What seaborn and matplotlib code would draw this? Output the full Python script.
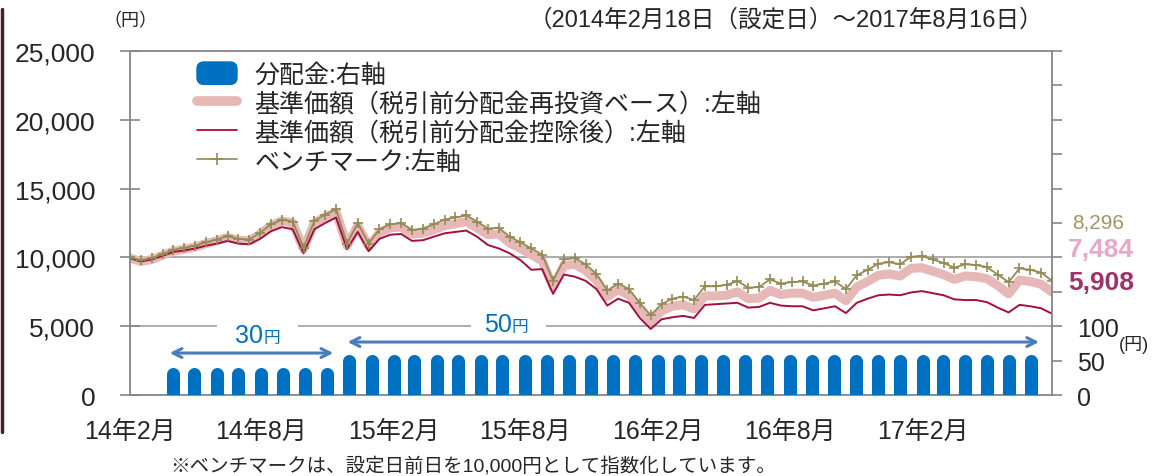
import matplotlib
matplotlib.use("Agg")
import pandas as pd
import matplotlib.pyplot as plt
import matplotlib.dates as mdates
import matplotlib.patches as mpatches
from matplotlib.lines import Line2D
from matplotlib.legend_handler import HandlerPatch
import seaborn as sns

sns.set_style("white")
plt.rcParams["font.family"] = ["Liberation Sans", "Noto Sans CJK JP"]

# ---------------- data ----------------
start_date = "2014-02-18"
end_date = "2017-08-16"

benchmark = [
    10000, 9800, 9950, 10250, 10550, 10700, 10850, 11100, 11300, 11550,
    11350, 11300, 11800, 12400, 12750, 12600, 10700, 12650, 13100, 13500,
    11000, 12500, 11000, 12050, 12400, 12500, 12000, 12100, 12400, 12750,
    12900, 13050, 12600, 12100, 12150, 11500, 11100, 10650, 10200, 8300,
    9850, 9950, 9500, 8800, 7600, 8100, 7700, 6700, 5800, 6600,
    7000, 7150, 6900, 7900, 7900, 8000, 8280, 7800, 7850, 8400,
    8100, 8200, 8250, 7950, 8100, 8250, 7700, 8700, 9100, 9550,
    9650, 9500, 10050, 10100, 9850, 9600, 9250, 9500, 9450, 9300,
    8750, 8200, 9200, 9100, 8900, 8296,
]
nav_reinvest = [
    9950, 9700, 9850, 10150, 10450, 10600, 10750, 11000, 11200, 11450,
    11250, 11200, 11700, 12300, 12650, 12500, 10600, 12500, 12950, 13300,
    10850, 12300, 10800, 11800, 12150, 12200, 11700, 11750, 12000, 12300,
    12450, 12600, 12150, 11650, 11700, 11050, 10650, 10200, 9750, 7850,
    9400, 9500, 9050, 8350, 7150, 7650, 7250, 6250, 5350, 6100,
    6450, 6550, 6250, 7200, 7200, 7250, 7500, 7000, 7050, 7600,
    7300, 7400, 7400, 7100, 7250, 7400, 6850, 7850, 8250, 8700,
    8800, 8650, 9200, 9250, 9000, 8750, 8400, 8650, 8600, 8450,
    7950, 7350, 8350, 8250, 8050, 7484,
]
nav = [
    9950, 9700, 9850, 10100, 10400, 10500, 10650, 10850, 11000, 11200,
    11000, 10950, 11350, 11900, 12200, 12050, 10300, 12050, 12500, 12900,
    10600, 11850, 10450, 11350, 11650, 11700, 11200, 11250, 11500, 11750,
    11850, 11950, 11500, 10900, 10650, 10300, 9800, 9100, 9150, 7350,
    8750, 8600, 8300, 7700, 6500, 7000, 6700, 5600, 4800, 5500,
    5650, 5750, 5600, 6550, 6600, 6650, 6700, 6350, 6400, 6700,
    6500, 6450, 6450, 6150, 6300, 6450, 5950, 6700, 7000, 7250,
    7300, 7250, 7450, 7550, 7400, 7250, 6950, 6900, 6900, 6750,
    6350, 6000, 6550, 6450, 6300, 5908,
]
# monthly distributions (yen), Apr 2014 - Jul 2017
payouts = [30] * 8 + [50] * 32

xtick_dates = ["2014-02-18", "2014-08-18", "2015-02-18", "2015-08-18",
               "2016-02-18", "2016-08-18", "2017-02-18"]
xtick_labels = ["14年2月", "14年8月", "15年2月", "15年8月",
                "16年2月", "16年8月", "17年2月"]
left_ticks = [0, 5000, 10000, 15000, 20000, 25000]
left_tick_labels = ["0", "5,000", "10,000", "15,000", "20,000", "25,000"]
right_ticks = list(range(0, 501, 50))
right_tick_labels = ["0", "50", "100"] + [""] * 8

legend_labels = ["分配金:右軸",
                 "基準価額（税引前分配金再投資ベース）:左軸",
                 "基準価額（税引前分配金控除後）:左軸",
                 "ベンチマーク:左軸"]

# colours
BLUE = "#0070C0"
PINK = "#E6B9B8"
RED = "#A50F3C"
OLIVE = "#948A54"
ARROW = "#4A7EBB"
GRAY = "#A6A6A6"

dates = pd.date_range(start_date, end_date, periods=len(benchmark))
df = pd.DataFrame({"date": dates, "bench": benchmark,
                   "reinvest": nav_reinvest, "nav": nav})
pay_dates = pd.date_range("2014-04-01", periods=len(payouts), freq="MS") + pd.Timedelta(days=17)

d = lambda s: mdates.date2num(pd.Timestamp(s))

# ---------------- figure ----------------
fig = plt.figure(figsize=(11.52, 4.77), dpi=100)
ax = fig.add_axes([130 / 1152, 1 - 396 / 477, 922 / 1152, 344 / 477])

# gridlines: 10,000 full, 5,000 broken where the amount labels sit
ax.axhline(10000, color=GRAY, lw=1.3, zorder=0.5)
grid_breaks = [(start_date, "2014-06-18"), ("2014-10-08", "2015-06-05"),
               ("2015-09-16", end_date)]
for a, b in grid_breaks:
    ax.hlines(5000, d(a), d(b), color=GRAY, lw=1.3, zorder=0.5)

sns.lineplot(data=df, x="date", y="reinvest", ax=ax, color=PINK,
             linewidth=6.5, solid_capstyle="round", errorbar=None, legend=False)
sns.lineplot(data=df, x="date", y="nav", ax=ax, color=RED,
             linewidth=1.4, errorbar=None, legend=False)
sns.lineplot(data=df, x="date", y="bench", ax=ax, color=OLIVE,
             linewidth=1.3, marker="+", markersize=7, markeredgewidth=1.2,
             markeredgecolor=OLIVE, errorbar=None, legend=False)

ax.set_xlim(pd.Timestamp(start_date), pd.Timestamp(end_date))
ax.set_ylim(0, 25000)
ax.set_yticks(left_ticks)
ax.set_yticklabels(left_tick_labels)
ax.set_xticks(pd.to_datetime(xtick_dates))
ax.set_xticklabels(xtick_labels)
ax.set_xlabel("")
ax.set_ylabel("")
ax.tick_params(axis="y", direction="inout", length=14, width=1.2,
               color="#868686", labelsize=19, pad=18)
ax.tick_params(axis="x", direction="out", length=6, width=1.2,
               color="#868686", labelsize=18, pad=11)
for side in ["left", "bottom", "top"]:
    ax.spines[side].set_color("#868686")
    ax.spines[side].set_linewidth(1.3)
ax.spines["right"].set_visible(False)

# distributions on the right axis
ax2 = ax.twinx()
ax2.vlines(pay_dates, 0, payouts, colors=BLUE, linewidth=9.4, capstyle="round")
ax2.set_ylim(0, 500)
ax2.set_yticks(right_ticks)
ax2.set_yticklabels(right_tick_labels)
ax2.tick_params(axis="y", direction="out", length=7, width=1.2,
                color="#868686", labelsize=18, pad=11)
for side in ["left", "bottom", "top"]:
    ax2.spines[side].set_visible(False)
ax2.spines["right"].set_color("#868686")
ax2.spines["right"].set_linewidth(1.3)
ax2.set_xlim(pd.Timestamp(start_date), pd.Timestamp(end_date))

# arrows + amount labels
ax.annotate("", xy=(d("2014-11-30"), 3050), xytext=(d("2014-04-10"), 3050),
            arrowprops=dict(arrowstyle="<->", color=ARROW, lw=2.2, mutation_scale=16))
ax.annotate("", xy=(d("2017-08-02"), 3850), xytext=(d("2014-12-12"), 3850),
            arrowprops=dict(arrowstyle="<->", color=ARROW, lw=2.2, mutation_scale=16))


def amount_label(date, y, num):
    ax.text(d(date), y, num, color=BLUE, fontsize=18, ha="right",
            va="baseline", zorder=5)
    ax.text(d(date), y, "円", color=BLUE, fontsize=12, ha="left",
            va="baseline", zorder=5)


amount_label("2014-08-21", 3850, "30")
amount_label("2015-07-31", 4650, "50")

# legend
def round_box(legend, orig_handle, xdescent, ydescent, width, height, fontsize):
    return mpatches.FancyBboxPatch((-xdescent, -ydescent), width, height,
                                   boxstyle="round,pad=0,rounding_size=5")


handles = [
    mpatches.Patch(color=BLUE),
    Line2D([], [], color=PINK, lw=7, solid_capstyle="round"),
    Line2D([], [], color=RED, lw=1.3),
    Line2D([], [], color=OLIVE, lw=1.2, marker="+", markersize=8, mew=1.2),
]
ax.legend(handles, legend_labels, loc="upper left",
          bbox_to_anchor=(197 / 1152, 1 - 63 / 477), bbox_transform=fig.transFigure,
          frameon=False, fontsize=18, handlelength=1.6, handleheight=1.0,
          handletextpad=0.7, labelspacing=0.17, borderpad=0, borderaxespad=0,
          handler_map={mpatches.Patch: HandlerPatch(patch_func=round_box)})

# figure texts
fig.text(130 / 1152, 1 - 22 / 477, "（円）", fontsize=13, ha="center", va="center")
fig.text(1043 / 1152, 1 - 20 / 477, "（2014年2月18日（設定日）～2017年8月16日）",
         fontsize=17, ha="right", va="center")
fig.text(1119 / 1152, 1 - 345 / 477, "(円)", fontsize=13, ha="left", va="center")
fig.text(1072 / 1152, 1 - 223 / 477, "8,296", fontsize=15, color="#A39464",
         ha="left", va="center")
fig.text(1068 / 1152, 1 - 250 / 477, "7,484", fontsize=19, color="#E8A9C9",
         fontweight="bold", ha="left", va="center")
fig.text(1068 / 1152, 1 - 283 / 477, "5,908", fontsize=19, color="#A0326A",
         fontweight="bold", ha="left", va="center")
fig.text(170 / 1152, 1 - 466 / 477,
         "※ベンチマークは、設定日前日を10,000円として指数化しています。",
         fontsize=14, ha="left", va="center")
fig.add_artist(Line2D([0.002, 0.002], [1 - 433 / 477, 1 - 10 / 477],
                      transform=fig.transFigure, color="#4B1E35", lw=2.5))

fig.savefig("out.png", dpi=100)
